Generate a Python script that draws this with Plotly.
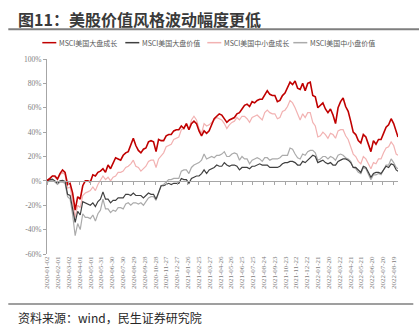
import pandas as pd
import plotly.graph_objects as go

# ---------------- data ----------------
series_names = ["MSCI美国大盘成长", "MSCI美国大盘价值", "MSCI美国中小盘成长", "MSCI美国中小盘价值"]
series_colors = ["#C00000", "#404040", "#F2B2B2", "#ABABAB"]

weekly = pd.date_range("2020-01-03", "2022-08-26", freq="W-FRI")
dates = [pd.Timestamp("2020-01-02")] + list(weekly) + [pd.Timestamp("2022-08-31")]

large_growth = [
    0,
    0.5, 2, 4, 4, 1.5,        # 2020 Jan
    6, 9, 7, -3,              # Feb
    -2, -10, -24, -13,        # Mar
    -15, -4, 0, 0,            # Apr
    -1, 5, 4, 7, 8,           # May
    10, 7, 13, 10,            # Jun
    15, 19, 18, 17, 21,       # Jul
    23, 24, 29, 35,           # Aug
    29, 25, 23, 26,           # Sep
    27, 32, 33, 32, 24,       # Oct
    34, 33, 33, 37,           # Nov
    38, 38, 41, 42,           # Dec
    42, 45, 43, 47, 42,       # 2021 Jan
    47, 49, 47, 41,           # Feb
    37, 41, 39, 41,           # Mar
    46, 51, 53, 55, 54,       # Apr
    51, 48, 50, 51,           # May
    52, 55, 56, 59,           # Jun
    62, 63, 61, 65, 64,       # Jul
    66, 67, 67, 71,           # Aug
    74, 71, 70, 70,           # Sep
    65, 66, 70, 72, 77,       # Oct
    81, 79, 82, 76,           # Nov
    75, 80, 74, 80, 81,       # Dec
    70, 69, 60, 62,           # 2022 Jan
    64, 59, 56, 59,           # Feb
    54, 47, 60, 65,           # Mar
    68, 61, 57, 49, 40,       # Apr
    38, 33, 31, 38,           # May
    36, 30, 24, 33,           # Jun
    30, 34, 34, 39, 44,       # Jul
    46, 51, 47, 40,           # Aug
    36,
]

large_value = [
    0,
    0, 1, 1.5, 0, -2,         # 2020 Jan
    0, 0.5, -0.5, -11,        # Feb
    -12, -22, -34, -25,       # Mar
    -28, -17, -18, -19,       # Apr
    -20, -18, -21, -17, -15,  # May
    -9, -15, -15, -18,        # Jun
    -16, -16, -14, -14, -14,  # Jul
    -11, -11, -12, -10,       # Aug
    -12, -12, -12, -14,       # Sep
    -12, -10, -11, -11, -15,  # Oct
    -10, -4, -4, -3,          # Nov
    -2, -3, -2, -2,           # Dec
    -2, 2, 1, 1, -2,          # 2021 Jan
    2, 3, 4, 4,               # Feb
    6, 9, 6, 9,               # Mar
    10, 11, 13, 12, 12,       # Apr
    15, 13, 12, 13,           # May
    13, 12, 9, 11,            # Jun
    11, 11, 10, 12, 12,       # Jul
    13, 14, 13, 13,           # Aug
    13, 11, 11, 11,           # Sep
    11, 12, 14, 15, 15,       # Oct
    16, 16, 15, 13,           # Nov
    13, 16, 15, 17, 19,       # Dec
    21, 20, 15, 16,           # 2022 Jan
    17, 15, 14, 15,           # Feb
    13, 13, 16, 17,           # Mar
    18, 18, 17, 15, 11,       # Apr
    11, 9, 7, 12,             # May
    11, 7, 3, 6,              # Jun
    7, 7, 6, 9, 12,           # Jul
    11, 14, 13, 9,            # Aug
    8,
]

small_growth = [
    0,
    1, 2, 4, 3, 1,            # 2020 Jan
    5, 7, 5, -6,              # Feb
    -5, -16, -30, -20,        # Mar
    -22, -12, -10, -9,        # Apr
    -8, -5, -8, -3, 0,        # May
    4, 1, 3, 0,               # Jun
    3, 4, 7, 7, 8,            # Jul
    11, 12, 14, 17,           # Aug
    12, 11, 8, 10,            # Sep
    12, 16, 17, 17, 11,       # Oct
    18, 21, 23, 28,           # Nov
    29, 30, 34, 35,           # Dec
    36, 42, 43, 47, 42,       # 2021 Jan
    50, 53, 50, 43,           # Feb
    39, 47, 45, 46,           # Mar
    48, 50, 52, 51, 50,       # Apr
    47, 43, 46, 48,           # May
    49, 52, 50, 53,           # Jun
    53, 51, 48, 52, 53,       # Jul
    54, 52, 50, 56,           # Aug
    58, 56, 55, 55,           # Sep
    51, 52, 57, 58, 61,       # Oct
    66, 64, 60, 55,           # Nov
    50, 55, 52, 56, 56,       # Dec
    48, 45, 36, 37,           # 2022 Jan
    40, 38, 35, 39,           # Feb
    38, 35, 41, 42,           # Mar
    42, 37, 34, 28, 22,       # Apr
    20, 16, 14, 20,           # May
    18, 14, 10, 15,           # Jun
    14, 18, 18, 23, 27,       # Jul
    28, 32, 29, 22,           # Aug
    21,
]

small_value = [
    0,
    -1, 0, 0.5, -1, -3,       # 2020 Jan
    -1, -1, -2, -13,          # Feb
    -15, -28, -45, -35,       # Mar
    -40, -27, -30, -30,       # Apr
    -31, -28, -33, -27, -24,  # May
    -15, -23, -23, -26,       # Jun
    -24, -25, -22, -22, -23,  # Jul
    -19, -18, -20, -18,       # Aug
    -18, -19, -18, -20,       # Sep
    -17, -14, -13, -13, -16,  # Oct
    -10, -4, -3, -1,          # Nov
    1, 1, 2, 2,               # Dec
    2, 8, 9, 9, 6,            # 2021 Jan
    11, 13, 14, 15,           # Feb
    17, 22, 18, 19,           # Mar
    20, 19, 21, 21, 22,       # Apr
    24, 20, 20, 22,           # May
    23, 22, 17, 20,           # Jun
    18, 18, 14, 17, 18,       # Jul
    19, 18, 16, 19,           # Aug
    19, 17, 18, 18,           # Sep
    18, 19, 21, 21, 21,       # Oct
    27, 26, 22, 19,           # Nov
    18, 22, 21, 24, 25,       # Dec
    25, 23, 17, 18,           # 2022 Jan
    20, 20, 18, 20,           # Feb
    19, 17, 21, 22,           # Mar
    21, 19, 18, 16, 11,       # Apr
    10, 7, 6, 11,             # May
    10, 5, 1, 5,              # Jun
    5, 6, 5, 9, 13,           # Jul
    13, 18, 15, 11,           # Aug
    10,
]

series_values = [large_growth, large_value, small_growth, small_value]
for v in series_values:
    assert len(v) == len(dates), (len(v), len(dates))

tick_labels = [
    "2020-01-02", "2020-02-01", "2020-03-02", "2020-04-01", "2020-05-01", "2020-05-31",
    "2020-06-30", "2020-07-30", "2020-08-29", "2020-09-28", "2020-10-28", "2020-11-27",
    "2020-12-27", "2021-01-26", "2021-02-25", "2021-03-27", "2021-04-26", "2021-05-26",
    "2021-06-25", "2021-07-25", "2021-08-24", "2021-09-23", "2021-10-23", "2021-11-22",
    "2021-12-22", "2022-01-21", "2022-02-20", "2022-03-22", "2022-04-21", "2022-05-21",
    "2022-06-20", "2022-07-20", "2022-08-19",
]
y_ticks = [-60, -40, -20, 0, 20, 40, 60, 80, 100]

# ---------------- layout geometry (pixels) ----------------
W, H = 419, 325
PL, PR, PT, PB = 46.7, 397.7, 59.3, 254.0   # plot area edges


def px(x):
    return (x - PL) / (PR - PL)


def py(y):
    return (PB - y) / (PB - PT)


fig = go.Figure()

draw_order = [3, 2, 1, 0]
widths = [1.6, 1.2, 1.2, 1.2]
for i in draw_order:
    fig.add_trace(go.Scatter(
        x=dates, y=series_values[i], mode="lines", name=series_names[i],
        line=dict(color=series_colors[i], width=widths[i]),
        showlegend=False, hoverinfo="skip",
    ))

# invisible helper trace so the category axis at y = 0 (xaxis2) is rendered
fig.add_trace(go.Scatter(x=[dates[0]], y=[None], xaxis="x2", yaxis="y",
                         mode="lines", showlegend=False, hoverinfo="skip"))

xrange = [dates[0], dates[-1]]
axis_color = "#A6A6A6"
zero_pos = 60 / 160  # fraction of y range where 0% sits

fig.update_layout(
    width=W, height=H,
    margin=dict(l=PL, r=W - PR, t=PT, b=H - PB, pad=0),
    paper_bgcolor="white", plot_bgcolor="white",
    xaxis=dict(
        type="date", range=xrange, tickvals=tick_labels, ticktext=tick_labels,
        tickangle=-90, showgrid=False, zeroline=False, showline=False,
        ticks="", tickfont=dict(family="Liberation Serif", size=7, color="#808080"),
    ),
    xaxis2=dict(
        type="date", range=xrange, overlaying="x", anchor="free", position=zero_pos,
        tickvals=tick_labels, showticklabels=False, ticks="outside", ticklen=3,
        tickcolor=axis_color, showline=True, linecolor=axis_color, linewidth=1,
        showgrid=False, zeroline=False, side="bottom",
    ),
    yaxis=dict(
        range=[-60, 100], tickvals=y_ticks, ticktext=[f"{v}%" for v in y_ticks],
        showgrid=False, zeroline=False, showline=True, linecolor=axis_color,
        ticks="outside", ticklen=3, tickcolor=axis_color,
        tickfont=dict(family="Liberation Serif", size=7.5, color="#808080"),
    ),
    showlegend=False,
)

# title
fig.add_annotation(
    text="<b>图11：美股价值风格波动幅度更低</b>", xref="paper", yref="paper",
    x=px(16), y=py(19), xanchor="left", yanchor="middle", showarrow=False,
    font=dict(family="Noto Sans CJK SC", size=16, color="#3A3A3A"),
)
fig.add_shape(type="line", xref="paper", yref="paper", x0=px(8), x1=px(419),
              y0=py(29.5), y1=py(29.5), line=dict(color="#7F7F7F", width=2))

# manual legend
legend_x = [42, 125, 207, 293]
legend_y = 43
for i in range(4):
    fig.add_shape(type="line", xref="paper", yref="paper",
                  x0=px(legend_x[i]), x1=px(legend_x[i] + 14),
                  y0=py(legend_y), y1=py(legend_y),
                  line=dict(color=series_colors[i], width=1.5))
    fig.add_annotation(
        text=series_names[i], xref="paper", yref="paper",
        x=px(legend_x[i] + 15), y=py(legend_y), xanchor="left", yanchor="middle",
        showarrow=False, font=dict(family="Noto Sans CJK SC", size=7, color="#595959"),
    )

# source
fig.add_shape(type="line", xref="paper", yref="paper", x0=px(8), x1=px(413),
              y0=py(304), y1=py(304), line=dict(color="#7F7F7F", width=1.5))
fig.add_annotation(
    text="资料来源：wind，民生证券研究院", xref="paper", yref="paper",
    x=px(16), y=py(317), xanchor="left", yanchor="middle", showarrow=False,
    font=dict(family="Noto Sans CJK SC", size=12, color="#262626"),
)

fig.write_html("out.html")
